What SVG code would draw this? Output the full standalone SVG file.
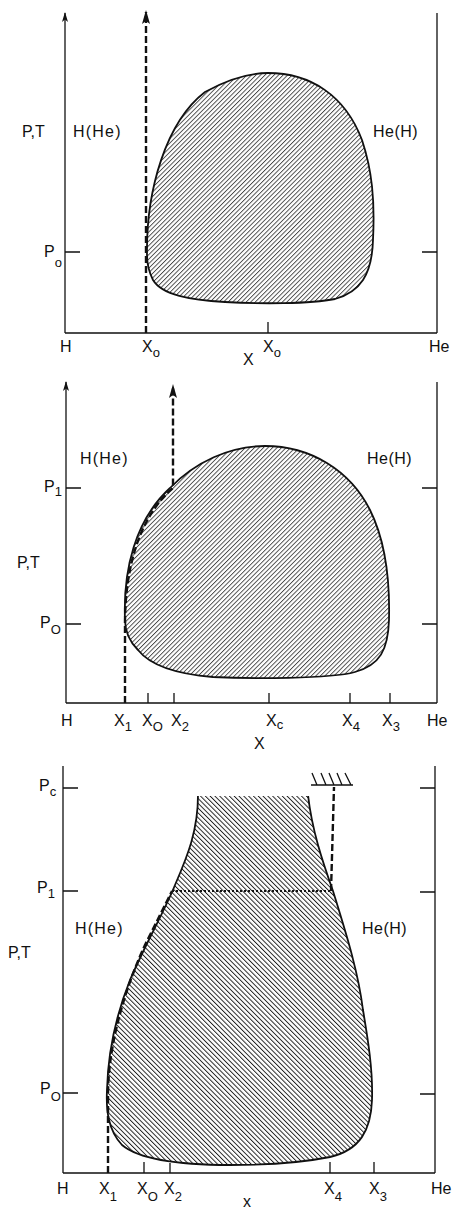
<svg xmlns="http://www.w3.org/2000/svg" width="452" height="1208" viewBox="0 0 452 1208">
<style>
text{font-family:"Liberation Sans",Arial,sans-serif;font-size:16px;fill:#111}
.sub{font-size:13px}
.ax{stroke:#111;stroke-width:1.3;fill:none}
.blob{stroke:#111;stroke-width:1.8}
.dash{stroke:#111;stroke-width:2.4;fill:none;stroke-dasharray:7,3}
.dot{stroke:#111;stroke-width:1.8;fill:none;stroke-dasharray:2,2}
</style>
<defs>
<pattern id="hatchA" width="3.2" height="10" patternUnits="userSpaceOnUse" patternTransform="rotate(45)">
<line x1="0.5" y1="0" x2="0.5" y2="10" stroke="#111" stroke-width="0.8"/>
</pattern>
<pattern id="hatchB" width="3.4" height="10" patternUnits="userSpaceOnUse" patternTransform="rotate(-45)">
<line x1="0.5" y1="0" x2="0.5" y2="10" stroke="#111" stroke-width="0.9"/>
</pattern>
<marker id="axArr" markerWidth="10" markerHeight="8" refX="9" refY="4" orient="auto" markerUnits="userSpaceOnUse" viewBox="0 0 10 8">
<path d="M10,4 L0,1 L2.5,4 L0,7 Z" fill="#111"/>
</marker>
<marker id="dArr" markerWidth="14" markerHeight="10" refX="12" refY="5" orient="auto" markerUnits="userSpaceOnUse" viewBox="0 0 14 10">
<path d="M14,5 L0,1 L3,5 L0,9 Z" fill="#111"/>
</marker>
</defs>

<!-- Panel 1 -->
<g id="panel1-axes">
<path class="ax" d="M65,333 L65,13" marker-end="url(#axArr)"/>
<path class="ax" d="M65,333 L437,333 M437,333 L437,13"/>
<path class="ax" d="M65,252 L80,252 M422,252 L437,252 M268,333 L268,322"/>
</g>
<g id="panel1-region">
<path class="blob" fill="url(#hatchA)" d="M147,255 C146,190 166,122 205,92 C230,78 250,73 268,73 C310,73 345,95 362,140 C372,170 375,200 373,240 C372,275 360,292 335,299 C310,304 260,304 225,302 C190,300 162,295 153,280 C148,270 147,262 147,255 Z"/>
</g>
<g id="panel1-connectors">
<path class="dash" d="M146,333 L146,12" marker-end="url(#dArr)"/>
</g>
<g id="panel1-labels">
<text x="22" y="137">P,T</text>
<text x="73" y="137" letter-spacing="1.2">H(He)</text>
<text x="373" y="137" letter-spacing="0.5">He(H)</text>
<text x="44" y="257">P<tspan class="sub" dy="10">o</tspan></text>
<text x="60" y="352">H</text>
<text x="142" y="352">X<tspan class="sub" dy="5">o</tspan></text>
<text x="243" y="365">X</text>
<text x="263" y="352">X<tspan class="sub" dy="5">o</tspan></text>
<text x="429" y="352">He</text>
</g>

<!-- Panel 2 -->
<g id="panel2-axes">
<path class="ax" d="M66,703 L66,382" marker-end="url(#axArr)"/>
<path class="ax" d="M66,703 L437,703 M437,703 L437,382"/>
<path class="ax" d="M66,488 L81,488 M422,488 L437,488 M66,624 L81,624 M422,624 L437,624"/>
<path class="ax" d="M148,703 L148,693 M174,703 L174,693 M269,703 L269,693 M350,703 L350,693 M390,703 L390,693"/>
</g>
<g id="panel2-region">
<path class="blob" fill="url(#hatchA)" d="M125,620 C123,570 135,520 170,488 C195,462 230,446 265,446 C310,446 350,470 370,510 C385,540 390,580 389,620 C388,650 380,665 355,672 C330,679 250,679 213,677 C175,674 150,665 138,650 C128,640 125,630 125,620 Z"/>
</g>
<g id="panel2-connectors">
<path class="dash" d="M125,703 L125,624 C125,570 138,518 173,488 L173,386" marker-end="url(#dArr)"/>
</g>
<g id="panel2-labels">
<text x="80" y="464" letter-spacing="1.2">H(He)</text>
<text x="367" y="464" letter-spacing="0.5">He(H)</text>
<text x="44" y="492">P<tspan class="sub" dy="4">1</tspan></text>
<text x="17" y="568">P,T</text>
<text x="40" y="628">P<tspan class="sub" dy="6">O</tspan></text>
<text x="61" y="726">H</text>
<text x="114" y="726">X<tspan class="sub" dy="5">1</tspan></text>
<text x="142" y="726">X<tspan class="sub" dy="5">O</tspan></text>
<text x="171" y="726">X<tspan class="sub" dy="5">2</tspan></text>
<text x="266" y="726">X<tspan class="sub" dy="3">c</tspan></text>
<text x="254" y="749">X</text>
<text x="342" y="726">X<tspan class="sub" dy="5">4</tspan></text>
<text x="382" y="726">X<tspan class="sub" dy="5">3</tspan></text>
<text x="427" y="726">He</text>
</g>

<!-- Panel 3 -->
<g id="panel3-axes">
<path class="ax" d="M63,1173 L63,766 M63,1173 L435,1173 M435,1173 L435,766"/>
<path class="ax" d="M63,788 L78,788 M420,788 L435,788 M63,891 L78,891 M420,892 L435,892 M63,1093 L78,1093 M420,1094 L435,1094"/>
<path class="ax" d="M144,1173 L144,1162 M170,1173 L170,1163 M330,1173 L330,1162 M374,1173 L374,1162"/>
</g>
<g id="panel3-region">
<path class="blob" fill="url(#hatchB)" d="M198,795 L308,795 C312,830 322,860 333,891 C345,930 358,970 363,1010 C368,1040 373,1070 372,1100 C371,1130 360,1150 330,1157 C300,1163 260,1165 230,1165 C180,1165 140,1160 122,1145 C108,1130 106,1110 107,1090 C108,1050 118,1010 130,980 C145,945 165,910 175,885 C188,855 198,830 198,795 Z"/>
<path fill="#fff" stroke="none" d="M196,793 L310,793 L310,796 L196,796 Z"/>
</g>
<g id="panel3-wall">
<path class="ax" stroke-width="2" d="M311,785 L353,785 M312,773 L317,785 M321,773 L326,785 M329,773 L334,785 M337,773 L342,785 M345,773 L351,785"/>
</g>
<g id="panel3-connectors">
<path class="dash" d="M108,1173 L108,1095 C108,1050 122,995 145,945 C155,925 165,905 172,891"/>
<path class="dot" d="M172,891 L331,891"/>
<path class="dash" d="M331,891 L334,787"/>
</g>
<g id="panel3-labels">
<text x="39" y="791">P<tspan class="sub" dy="5">c</tspan></text>
<text x="37" y="893">P<tspan class="sub" dy="5">1</tspan></text>
<text x="8" y="958">P,T</text>
<text x="75" y="934" letter-spacing="1.2">H(He)</text>
<text x="362" y="934" letter-spacing="0.5">He(H)</text>
<text x="40" y="1094">P<tspan class="sub" dy="7">O</tspan></text>
<text x="57" y="1194">H</text>
<text x="99" y="1194">X<tspan class="sub" dy="7">1</tspan></text>
<text x="137" y="1194">X<tspan class="sub" dy="7">O</tspan></text>
<text x="164" y="1194">X<tspan class="sub" dy="7">2</tspan></text>
<text x="243" y="1207">x</text>
<text x="324" y="1194">X<tspan class="sub" dy="7">4</tspan></text>
<text x="369" y="1194">X<tspan class="sub" dy="7">3</tspan></text>
<text x="431" y="1194">He</text>
</g>
</svg>
